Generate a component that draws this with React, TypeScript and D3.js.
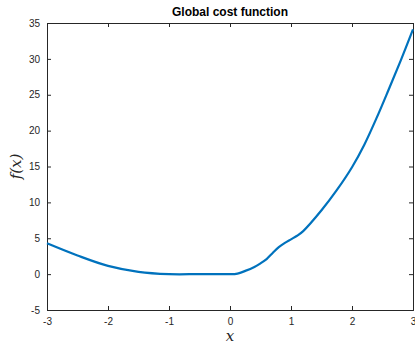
import { useEffect, useRef } from 'react';
import * as d3 from 'd3';

// values
const xValues = [-3, -2.5, -2, -1.5, -1, -0.5, 0, 0.1, 0.25, 0.4, 0.5, 0.6, 0.7, 0.8, 0.9, 1, 1.1, 1.2, 1.5, 1.75, 2, 2.2, 2.4, 2.6, 2.8, 3];
const yValues = [4.3, 2.6, 1.15, 0.32, 0, 0, 0, 0.03, 0.45, 1.0, 1.5, 2.1, 2.95, 3.75, 4.35, 4.85, 5.35, 6.0, 8.9, 11.7, 14.9, 18.0, 21.7, 25.7, 29.8, 34.1];
const xTicks = [-3, -2, -1, 0, 1, 2, 3];
const yTicks = [-5, 0, 5, 10, 15, 20, 25, 30, 35];

const W = 415;
const H = 345;
const margin = { top: 23, right: 2, bottom: 35, left: 47 };

export default function App() {
  const svgRef = useRef<SVGSVGElement>(null);

  useEffect(() => {
    const svg = d3.select(svgRef.current);
    svg.selectAll('*').remove();

    const x = d3.scaleLinear().domain([-3, 3]).range([margin.left, W - margin.right]);
    const y = d3.scaleLinear().domain([-5, 35]).range([H - margin.bottom, margin.top]);
    const axisColor = '#262626';
    const font = '"Liberation Sans", Arial, sans-serif';

    svg.append('rect').attr('width', W).attr('height', H).attr('fill', '#fff');

    const tick = 4;
    const fmt = (d: d3.NumberValue) => String(d);

    const gx = svg.append('g').attr('transform', `translate(0,${y(-5)})`)
      .call(d3.axisBottom(x).tickValues(xTicks).tickSize(-tick).tickPadding(8).tickFormat(fmt));
    const gy = svg.append('g').attr('transform', `translate(${x(-3)},0)`)
      .call(d3.axisLeft(y).tickValues(yTicks).tickSize(-tick).tickPadding(7).tickFormat(fmt));
    const gt = svg.append('g').attr('transform', `translate(0,${y(35)})`)
      .call(d3.axisTop(x).tickValues(xTicks).tickSize(-tick).tickFormat(() => ''));
    const gr = svg.append('g').attr('transform', `translate(${x(3)},0)`)
      .call(d3.axisRight(y).tickValues(yTicks).tickSize(-tick).tickFormat(() => ''));

    [gx, gy, gt, gr].forEach((g) => {
      g.select('.domain').attr('stroke', axisColor).attr('stroke-width', 1);
      g.selectAll('.tick line').attr('stroke', axisColor);
      g.selectAll('text').attr('fill', axisColor).style('font-family', font).style('font-size', '10px');
    });

    const line = d3.line<number>()
      .x((_, i) => x(xValues[i]))
      .y((d) => y(d))
      .curve(d3.curveCatmullRom.alpha(0.5));

    svg.append('path')
      .datum(yValues)
      .attr('d', line)
      .attr('fill', 'none')
      .attr('stroke', '#0072BD')
      .attr('stroke-width', 2.2);

    svg.append('text')
      .attr('x', (x(-3) + x(3)) / 2)
      .attr('y', 16)
      .attr('text-anchor', 'middle')
      .style('font-family', font)
      .style('font-weight', 'bold')
      .style('font-size', '12px')
      .attr('fill', '#000')
      .text('Global cost function');

    svg.append('text')
      .attr('x', (x(-3) + x(3)) / 2)
      .attr('y', 341)
      .attr('text-anchor', 'middle')
      .style('font-family', '"DejaVu Serif", serif')
      .style('font-style', 'italic')
      .style('font-size', '15px')
      .attr('fill', axisColor)
      .text('x');

    svg.append('text')
      .attr('transform', `translate(21,${(y(-5) + y(35)) / 2}) rotate(-90)`)
      .attr('text-anchor', 'middle')
      .style('font-family', '"DejaVu Serif", serif')
      .style('font-style', 'italic')
      .style('font-size', '15px')
      .attr('fill', axisColor)
      .text('f(x)');
  }, []);

  return (
    <div style={{ position: 'absolute', left: 0, top: 0 }}>
      <svg ref={svgRef} width={W} height={H} style={{ display: 'block' }} />
    </div>
  );
}
